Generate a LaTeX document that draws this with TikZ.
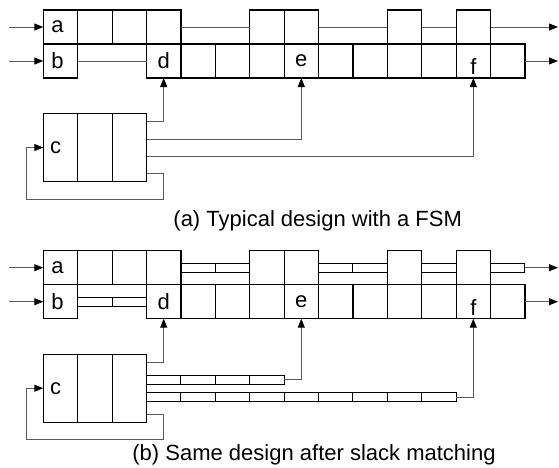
\documentclass[tikz,border=0pt]{standalone}
\usepackage{fontspec}
\setmainfont{Liberation Sans}
\usetikzlibrary{arrows.meta, positioning, calc}
\definecolor{wiregray}{HTML}{5A5A5A}

\begin{document}
\begin{tikzpicture}[
    x=1pt, y=-1pt,
    font=\fontsize{22}{26}\selectfont,
    cell/.style={draw, line width=1.2pt, minimum width=34.4pt, minimum height=34pt, inner sep=0pt, outer sep=0pt},
    fsm/.style={cell, minimum height=68pt},
    slot/.style={draw, line width=1.1pt, minimum width=34.4pt, minimum height=9pt, inner sep=0pt, outer sep=0pt},
    wire/.style={draw=wiregray, line width=1pt},
    data/.style={wire, -{Stealth[length=9pt, width=7pt, inset=0pt, color=black]}},
]
    \useasboundingbox (0,0) rectangle (559,467);

    % Skeleton shared by both designs
    \foreach \p/\dy in {A/0, B/240.7} {
    \begin{scope}[yshift=-\dy pt, name prefix=\p-]
        % Top pipeline
        \node[cell, label={[xshift=-3pt]center:a}] (t0) at (60.5,27) {};
        \foreach \k in {1,2,3,6,7,10,12}
            \node[cell] (t\k) at ({60.5+34.4*\k},27) {};

        % Bottom pipeline
        \node[cell, label={[xshift=-3pt]center:b}] (b0) at (60.5,61) {};
        \foreach \k/\txt in {3/d,4/,5/,6/,7/e,8/,9/,10/,11/,12/,13/}
            \node[cell] (b\k) at ({60.5+34.4*\k},61) {\txt};
        \node (flbl) at ([yshift=-6pt]b12.center) {f};

        % FSM
        \node[fsm, label={[xshift=-5pt]center:c}] (c0) at (60.5,147.5) {};
        \node[fsm] (c1) at (94.9,147.5) {};
        \node[fsm] (c2) at (129.3,147.5) {};

        % Ports
        \coordinate (ina) at (9,27);
        \coordinate (inb) at (9,61);
        \coordinate (outa) at (558,27);
        \coordinate (outb) at (558,61);
        \coordinate (loop) at (26.7,199);

        \draw[data] (ina) -- (t0.west);
        \draw[data] (inb) -- (b0.west);
        \draw[data] (b13.east) -- (outb);

        % Control to d, and state feedback
        \draw[data] ([yshift=25.8pt]c2.east) -| (b3.south);
        \draw[data] ([yshift=-25.8pt]c2.east) -| (b3 |- loop) -- (loop) |- (c0.west);
    \end{scope}
    }

    % (a) Typical design
    \begin{scope}[name prefix=A-]
        \draw[wire] (t3.east) -- (t6.west) (t7.east) -- (t10.west) (t10.east) -- (t12.west) (b0.east) -- (b3.west);
        \draw[data] (t12.east) -- (outa);
        \draw[data] ([yshift=8.5pt]c2.east) -| (b7.south);
        \draw[data] ([yshift=-9.2pt]c2.east) -| (b12.south);
    \end{scope}
    \node[anchor=base] (capa) at (317.7,226) {(a) Typical design with a FSM};

    % (b) Slack matched
    \begin{scope}[yshift=-240.7pt, name prefix=B-]
        \foreach \k in {4,5,8,9,11,13}
            \node[slot] (s\k) at ({60.5+34.4*\k},27) {};
        \foreach \k in {1,2}
            \node[slot] (r\k) at ({60.5+34.4*\k},61) {};
        \foreach \k in {3,...,6}
            \node[slot] (m\k) at ({60.5+34.4*\k},139) {};
        \foreach \k in {3,...,11}
            \node[slot] (n\k) at ({60.5+34.4*\k},156.7) {};
        \draw[data] (s13.east) -- (outa);
        \draw[data] (m6.east) -| (b7.south);
        \draw[data] (n11.east) -| (b12.south);
    \end{scope}
    \node[anchor=base] (capb) at (314,460) {(b) Same design after slack matching};

\end{tikzpicture}
\end{document}
